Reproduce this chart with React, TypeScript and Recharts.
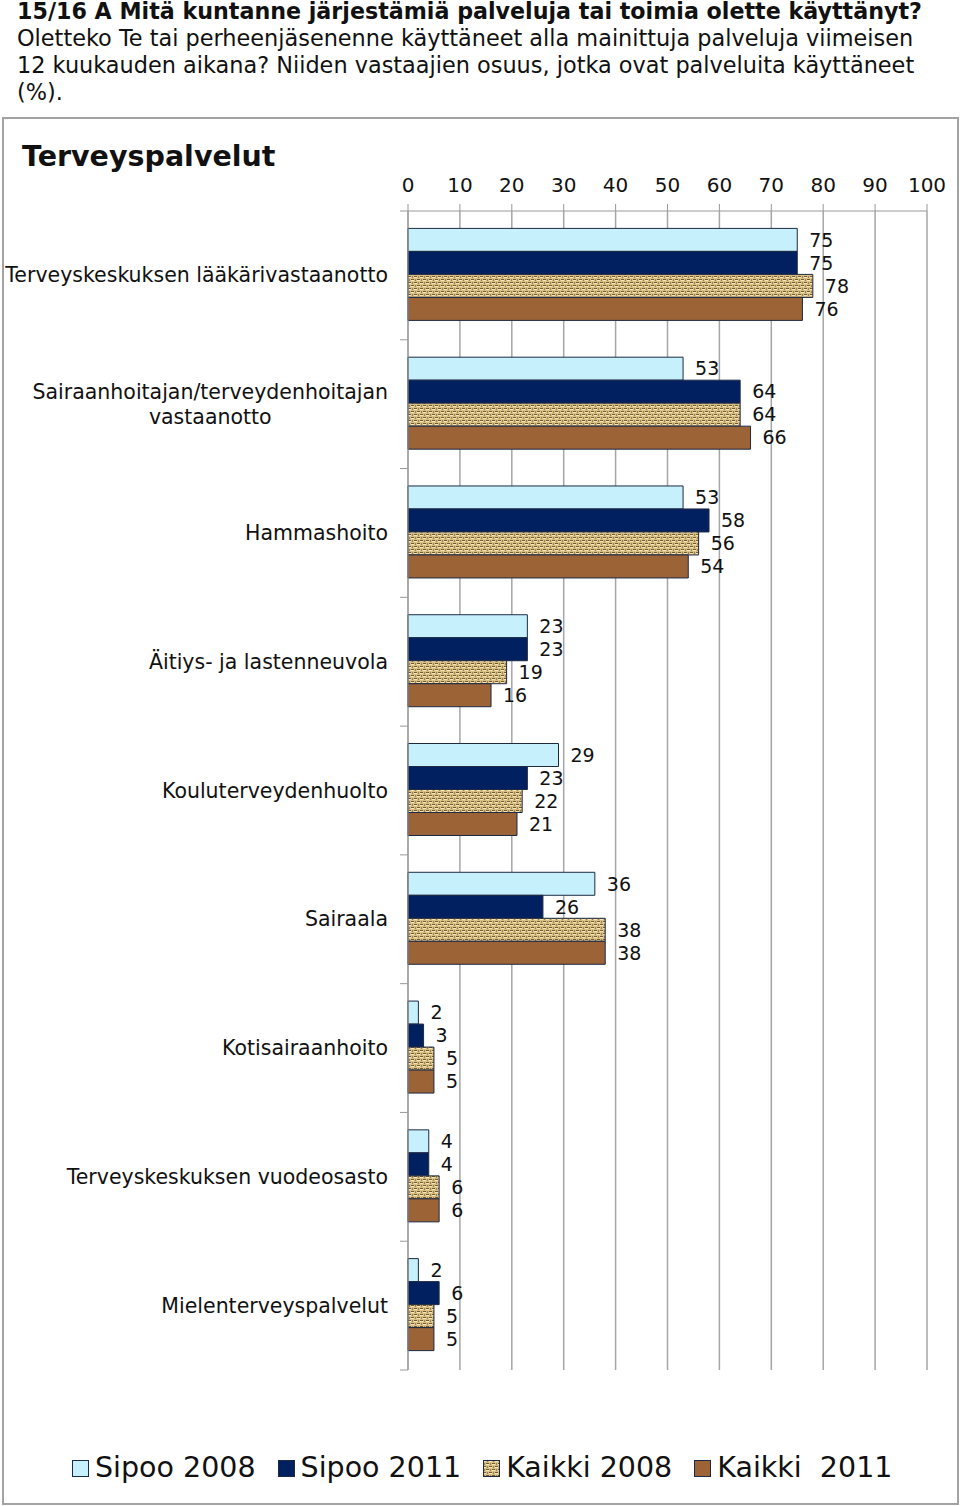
import { BarChart, Bar, XAxis, YAxis, CartesianGrid, LabelList } from 'recharts';

const categories = [
  'Terveyskeskuksen lääkärivastaanotto',
  'Sairaanhoitajan/terveydenhoitajan vastaanotto',
  'Hammashoito',
  'Äitiys- ja lastenneuvola',
  'Kouluterveydenhuolto',
  'Sairaala',
  'Kotisairaanhoito',
  'Terveyskeskuksen vuodeosasto',
  'Mielenterveyspalvelut',
];
const sipoo2008 = [75, 53, 53, 23, 29, 36, 2, 4, 2];
const sipoo2011 = [75, 64, 58, 23, 23, 26, 3, 4, 6];
const kaikki2008 = [78, 64, 56, 19, 22, 38, 5, 6, 5];
const kaikki2011 = [76, 66, 54, 16, 21, 38, 5, 6, 5];
const xTicks = [0, 10, 20, 30, 40, 50, 60, 70, 80, 90, 100];

const seriesNames = ['Sipoo 2008', 'Sipoo 2011', 'Kaikki 2008', 'Kaikki  2011'];

const COLORS = {
  s08: '#C6F1FC',
  s11: '#002060',
  k08: 'url(#burlap)',
  k11: '#9C6336',
};

const FONT = '"DejaVu Sans", Verdana, sans-serif';
const CAT_FONT_SIZE = 20.5;
const PLOT_TOP = 211;
const PLOT_BOTTOM = 1370;
const BAND = (PLOT_BOTTOM - PLOT_TOP) / categories.length;

const data = categories.map((name, i) => ({
  name,
  s08: sipoo2008[i],
  s11: sipoo2011[i],
  k08: kaikki2008[i],
  k11: kaikki2011[i],
}));

let ctx: CanvasRenderingContext2D | null = null;
function measure(text: string, font: string) {
  if (!ctx) ctx = document.createElement('canvas').getContext('2d');
  if (!ctx) return text.length * 11;
  ctx.font = font;
  return ctx.measureText(text).width;
}

function splitLabel(label: string) {
  if (label.length <= 36) return [label];
  const cut = label.lastIndexOf(' ');
  return [label.slice(0, cut), label.slice(cut + 1)];
}

function CategoryTick(props: any) {
  const { y, payload, index } = props;
  const lines = splitLabel(payload.value);
  const right = 388;
  const w = measure(lines[0], `${CAT_FONT_SIZE}px ${FONT}`);
  const cx = right - w / 2;
  const top = y - ((lines.length - 1) * 25) / 2;
  return (
    <g>
      <line x1={400} x2={408} y1={y - BAND / 2} y2={y - BAND / 2} stroke="#999" />
      {index === categories.length - 1 && (
        <line x1={400} x2={408} y1={y + BAND / 2} y2={y + BAND / 2} stroke="#999" />
      )}
      {lines.map((l, i) => (
        <text
          key={i}
          x={lines.length > 1 ? cx : right}
          y={top + i * 25}
          textAnchor={lines.length > 1 ? 'middle' : 'end'}
          dominantBaseline="central"
          fontSize={CAT_FONT_SIZE}
          fontFamily={FONT}
          fill="#111"
        >
          {l}
        </text>
      ))}
    </g>
  );
}

const legendItems = [
  { name: seriesNames[0], fill: COLORS.s08 },
  { name: seriesNames[1], fill: COLORS.s11 },
  { name: seriesNames[2], fill: COLORS.k08 },
  { name: seriesNames[3], fill: COLORS.k11 },
];

export default function App() {
  const labelStyle = { fontSize: 19, fontFamily: FONT, fill: '#111' };
  return (
    <div style={{ position: 'absolute', left: 0, top: 0, width: 960, height: 1506, background: '#fff', fontFamily: FONT }}>
      <div style={{ position: 'absolute', left: 17, top: -2, width: 943, fontSize: 22.4, lineHeight: '27px', color: '#111', whiteSpace: 'nowrap' }}>
        <div style={{ fontWeight: 'bold', fontSize: 22.2 }}>15/16 A Mitä kuntanne järjestämiä palveluja tai toimia olette käyttänyt?</div>
        <div>Oletteko Te tai perheenjäsenenne käyttäneet alla mainittuja palveluja viimeisen</div>
        <div>12 kuukauden aikana? Niiden vastaajien osuus, jotka ovat palveluita käyttäneet</div>
        <div>(%).</div>
      </div>
      <div style={{ position: 'absolute', left: 2, top: 117, width: 953, height: 1384, border: '2px solid #a3a3a3' }} />
      <div style={{ position: 'absolute', left: 22, top: 137, fontSize: 28.5, fontWeight: 'bold', color: '#111', lineHeight: '40px' }}>
        Terveyspalvelut
      </div>
      <div style={{ position: 'absolute', left: 0, top: 0 }}>
        <BarChart
          layout="vertical"
          width={960}
          height={1506}
          data={data}
          margin={{ top: PLOT_TOP - 30, right: 33, bottom: 1506 - PLOT_BOTTOM, left: 0 }}
          barCategoryGap={17.4}
          barGap={0}
        >
          <defs>
            <pattern id="burlap" width="6" height="6" patternUnits="userSpaceOnUse">
              <rect width="6" height="6" fill="#D9BF84" />
              <rect x="0" y="0" width="3" height="1" fill="#6F5C32" />
              <rect x="3" y="3" width="3" height="1" fill="#6F5C32" />
              <rect x="4" y="0" width="1" height="2" fill="#9C8350" />
              <rect x="1" y="3" width="1" height="2" fill="#9C8350" />
              <rect x="0" y="1" width="3" height="1" fill="#F5E6BC" />
              <rect x="3" y="4" width="3" height="1" fill="#F5E6BC" />
            </pattern>
          </defs>
          <CartesianGrid horizontal={false} stroke="#a6a6a6" strokeWidth={1.5} />
          <XAxis
            type="number"
            orientation="top"
            domain={[0, 100]}
            ticks={xTicks}
            height={30}
            stroke="#999"
            tickSize={7}
            tickMargin={12}
            tick={{ fontSize: 20, fontFamily: FONT, fill: '#111' }}
          />
          <YAxis
            type="category"
            dataKey="name"
            width={408}
            stroke="#999"
            tickLine={false}
            tick={<CategoryTick />}
            interval={0}
          />
          <Bar dataKey="s08" fill={COLORS.s08} stroke="#1d2a44" strokeWidth={1} isAnimationActive={false}>
            <LabelList dataKey="s08" position="right" offset={12} style={labelStyle} />
          </Bar>
          <Bar dataKey="s11" fill={COLORS.s11} stroke="#1d2a44" strokeWidth={1} isAnimationActive={false}>
            <LabelList dataKey="s11" position="right" offset={12} style={labelStyle} />
          </Bar>
          <Bar dataKey="k08" fill={COLORS.k08} stroke="#1d2a44" strokeWidth={1} isAnimationActive={false}>
            <LabelList dataKey="k08" position="right" offset={12} style={labelStyle} />
          </Bar>
          <Bar dataKey="k11" fill={COLORS.k11} stroke="#1d2a44" strokeWidth={1} isAnimationActive={false}>
            <LabelList dataKey="k11" position="right" offset={12} style={labelStyle} />
          </Bar>
        </BarChart>
      </div>
      <div style={{ position: 'absolute', left: 72, top: 1449, display: 'flex', alignItems: 'center', gap: 22, fontSize: 28.5, color: '#111', lineHeight: '38px' }}>
        {legendItems.map((it) => (
          <div key={it.name} style={{ display: 'flex', alignItems: 'center', gap: 6, whiteSpace: 'pre' }}>
            <svg width={17} height={17}>
              <rect x={0.5} y={0.5} width={16} height={16} fill={it.fill} stroke="#1d2a44" />
            </svg>
            <span>{it.name}</span>
          </div>
        ))}
      </div>
    </div>
  );
}
